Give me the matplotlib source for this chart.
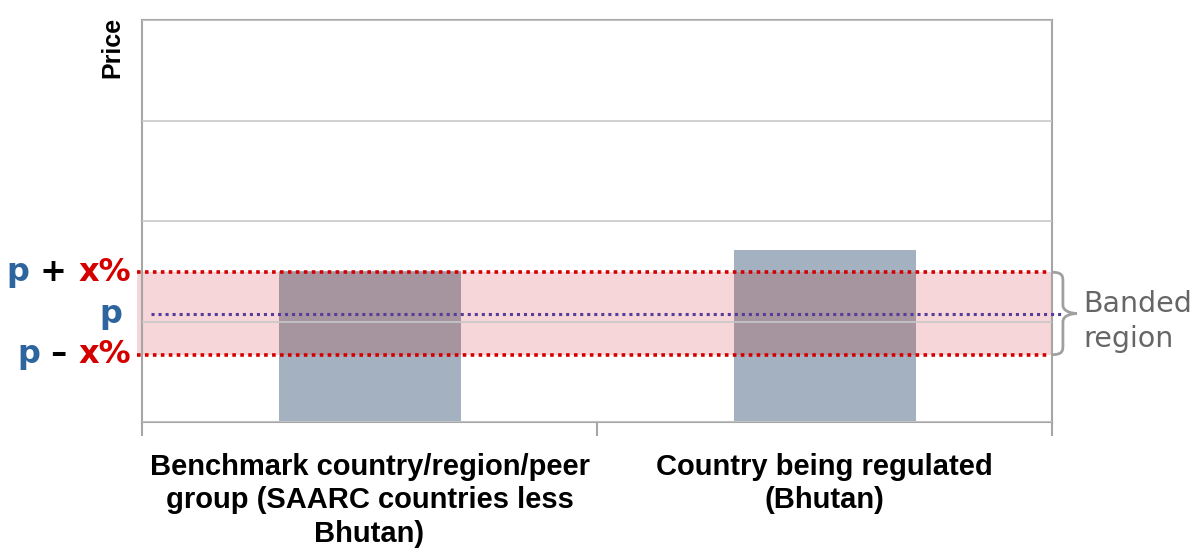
import matplotlib
matplotlib.use("Agg")
import matplotlib.pyplot as plt
from matplotlib.path import Path
from matplotlib.patches import PathPatch
import matplotlib.transforms as mtransforms
from matplotlib.offsetbox import TextArea, HPacker, AnnotationBbox

categories = ["Benchmark country/region/peer\ngroup (SAARC countries less\nBhutan)",
              "Country being regulated\n(Bhutan)"]
prices = [1.50, 1.71]
p_value = 1.07
band_high = 1.49
band_low = 0.67
y_max = 4
band_note = "Banded\nregion"

bar_color = "#a3b1c1"
overlap_color = "#a6959e"
band_color = "#f6d6d8"
red = "#d40000"
blue = "#2f659e"
purple = "#553d99"
spine_gray = "#a6a6a6"
grid_gray = "#c8c8c8"

fig = plt.figure(figsize=(11.92, 5.5), dpi=100)
ax = fig.add_axes([142/1192, 1 - 422/550, 910/1192, 402/550])

x = list(range(len(categories)))
ax.set_xlim(-0.5, len(categories) - 0.5)
ax.set_ylim(0, y_max)

# band fill (extends slightly left of the axis)
ax.axhspan(band_low, band_high, xmin=-0.006, xmax=1.0, color=band_color, zorder=0.5, clip_on=False, lw=0)

# grid
ax.set_yticks(range(0, y_max + 1))
ax.yaxis.grid(True, color=grid_gray, lw=1.2, zorder=1)
ax.set_axisbelow(False)
for gl in ax.get_ygridlines():
    gl.set_zorder(1)
ax.tick_params(axis="y", left=False, labelleft=False)

# bars
width = 0.4
ax.bar(x, prices, width=width, color=bar_color, zorder=2, lw=0)
for xi, v in zip(x, prices):
    top = min(v, band_high)
    if top > band_low:
        ax.bar(xi, top - band_low, bottom=band_low, width=width, color=overlap_color, zorder=2.5, lw=0)

# dotted lines
trans = mtransforms.blended_transform_factory(ax.transAxes, ax.transData)
for yv in (band_high, band_low):
    ax.plot([-0.006, 0.998], [yv, yv], transform=trans, color=red, lw=2.6,
            linestyle=(0, (1, 1.2)), zorder=4, clip_on=False)
ax.plot([0.01, 1.012], [p_value, p_value], transform=trans, color=purple, lw=2.2,
        linestyle=(0, (1, 1.3)), zorder=4, clip_on=False)

# spines
for s in ax.spines.values():
    s.set_color(spine_gray)
    s.set_linewidth(1.5)

# x ticks
ax.set_xticks(x)
ax.set_xticklabels(categories, fontsize=21, fontweight="bold", family="Liberation Sans",
                   linespacing=1.27)
ax.tick_params(axis="x", which="major", length=0, pad=22)
ax.set_xticks([i - 0.5 for i in range(len(categories) + 1)], minor=True)
ax.tick_params(axis="x", which="minor", length=10, width=1.5, color=spine_gray)

# y label
fig.text(112/1192, 1 - 47/550, "Price", rotation=90, fontsize=18, fontweight="bold",
         family="Liberation Sans", ha="center", va="center")

# left labels
tl = mtransforms.blended_transform_factory(fig.transFigure, ax.transData)
fs = 23
def label(parts, yv, xr):
    boxes = [TextArea(t, textprops=dict(color=c, fontsize=fs, fontweight="bold", family="DejaVu Sans"))
             for t, c in parts]
    pack = HPacker(children=boxes, align="baseline", pad=0, sep=0)
    ab = AnnotationBbox(pack, (xr, yv), xycoords=tl, box_alignment=(1, 0.5), frameon=False,
                        annotation_clip=False)
    ax.add_artist(ab)

label([("p", blue), (" + ", "black"), ("x%", red)], band_high, 131/1192)
label([("p", blue)], p_value, 122/1192)
label([("p", blue), (" \u2013 ", "black"), ("x%", red)], band_low, 131/1192)

# curly brace
x0 = 1.0
xt = 1.027
ymid = (band_high + band_low) / 2
h = band_high - band_low
verts = [
    (x0, band_high),
    (x0 + 0.012, band_high), (x0 + 0.012, band_high - 0.05 * h), (x0 + 0.012, band_high - 0.12 * h),
    (x0 + 0.012, ymid + 0.1 * h),
    (x0 + 0.012, ymid + 0.02 * h), (xt - 0.004, ymid), (xt, ymid),
    (xt - 0.004, ymid), (x0 + 0.012, ymid - 0.02 * h), (x0 + 0.012, ymid - 0.1 * h),
    (x0 + 0.012, band_low + 0.12 * h),
    (x0 + 0.012, band_low + 0.05 * h), (x0 + 0.012, band_low), (x0, band_low),
]
codes = [Path.MOVETO,
         Path.CURVE4, Path.CURVE4, Path.CURVE4,
         Path.LINETO,
         Path.CURVE4, Path.CURVE4, Path.CURVE4,
         Path.CURVE4, Path.CURVE4, Path.CURVE4,
         Path.LINETO,
         Path.CURVE4, Path.CURVE4, Path.CURVE4]
ax.add_patch(PathPatch(Path(verts, codes), transform=trans, fill=False, edgecolor="#a0a0a0",
                       lw=2, clip_on=False, zorder=5))

ax.text(1.034, ymid - 0.08, band_note, transform=trans, fontsize=20.5, color="#666666",
        family="DejaVu Sans", ha="left", va="center", linespacing=1.36)

fig.savefig("out.png", dpi=100)
